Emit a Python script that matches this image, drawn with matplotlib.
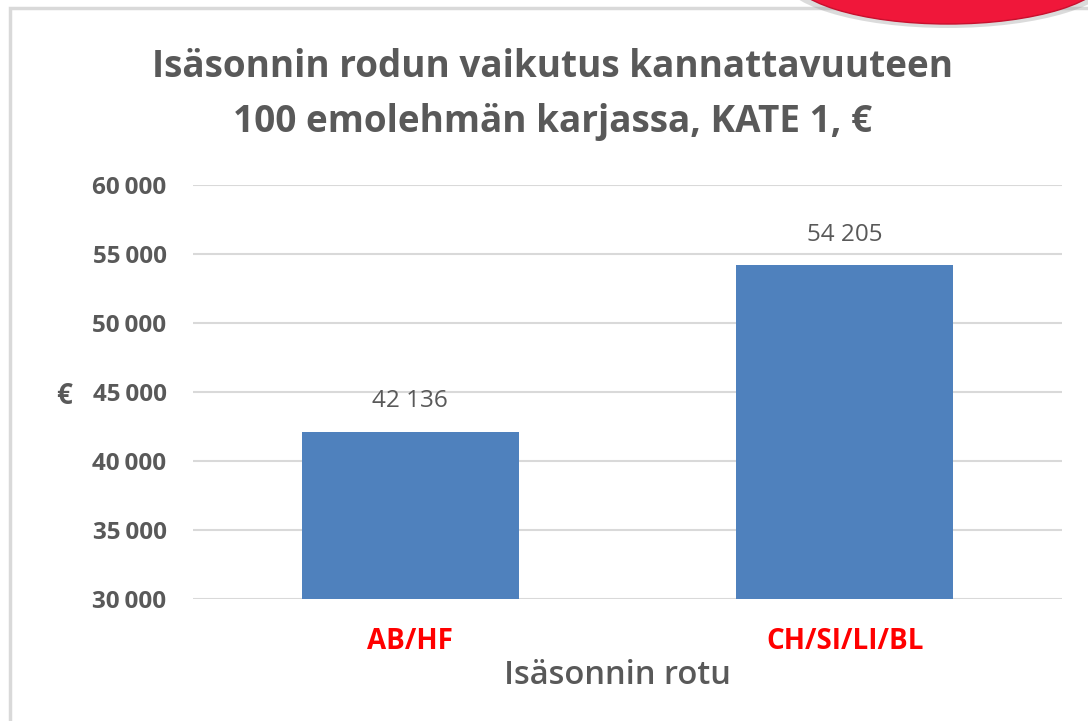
import matplotlib
matplotlib.use("Agg")
import matplotlib.pyplot as plt
from matplotlib.patches import Ellipse, Rectangle
from matplotlib.ticker import FuncFormatter

categories = ["AB/HF", "CH/SI/LI/BL"]
values = [42136, 54205]
yticks = [30000, 35000, 40000, 45000, 50000, 55000, 60000]

plt.rcParams['font.family'] = ['Open Sans', 'DejaVu Sans']
W, H = 1088, 721
fig = plt.figure(figsize=(W/100, H/100), dpi=100)
fig.patch.set_facecolor("white")

# outer frame
fig.patches.append(Rectangle((10/W, -0.05), 1.2, 1 - 8/H + 0.05, transform=fig.transFigure,
                             fill=False, edgecolor="#d9d9d9", linewidth=2.5, zorder=0))
# red ellipse decoration top-right (with shadow)
fig.patches.append(Ellipse((948/W, 1 - (-24)/H), 335/W, 104/H, transform=fig.transFigure,
                           facecolor="#9a9a9a", alpha=0.35, edgecolor="none", zorder=1))
fig.patches.append(Ellipse((948/W, 1 - (-26)/H), 318/W, 100/H, transform=fig.transFigure,
                           facecolor="#f0173a", edgecolor="#c8102e", linewidth=1, zorder=2))

ax = fig.add_axes([193/W, 1 - 599/H, (1062-193)/W, (599-185)/H])
ax.bar(range(len(categories)), values, width=0.5, color="#4f81bd", zorder=3)
ax.set_xlim(-0.5, 1.5)
ax.set_ylim(30000, 60000)
ax.set_yticks(yticks)
ax.yaxis.set_major_formatter(FuncFormatter(lambda v, p: f"{int(v):,}".replace(",", "\u2009")))
ax.grid(axis="y", color="#d9d9d9", linewidth=1.5, zorder=0)
for s in ax.spines.values():
    s.set_visible(False)
ax.tick_params(axis="y", length=0, pad=19, labelsize=17.5, labelcolor="#595959")
for t in ax.get_yticklabels():
    t.set_fontweight("bold")
ax.set_xticks(range(len(categories)))
ax.set_xticklabels(categories, fontsize=20, fontweight="bold", color="#ff0000")
ax.tick_params(axis="x", length=0, pad=20)

for i, v in enumerate(values):
    ax.annotate(f"{v:,}".replace(",", " "), (i, v), xytext=(0, 13), textcoords="offset points",
                ha="center", va="bottom", fontsize=17.5, color="#595959")

fig.text(617/W, 1 - 684/H, "Isäsonnin rotu", ha="center", va="baseline",
         fontsize=23.5, fontweight="semibold", color="#595959")
fig.text(64/W, 1 - 404/H, "€", ha="center", va="baseline", fontsize=20,
         fontweight="bold", color="#595959")
fig.text(553/W, 1 - 77/H, "Isäsonnin rodun vaikutus kannattavuuteen", ha="center", va="baseline",
         fontsize=26.6, fontweight="bold", color="#595959")
fig.text(553/W, 1 - 132/H, "100 emolehmän karjassa, KATE 1, €", ha="center", va="baseline",
         fontsize=26.6, fontweight="bold", color="#595959")

fig.savefig("out.png", dpi=100, facecolor="white")
